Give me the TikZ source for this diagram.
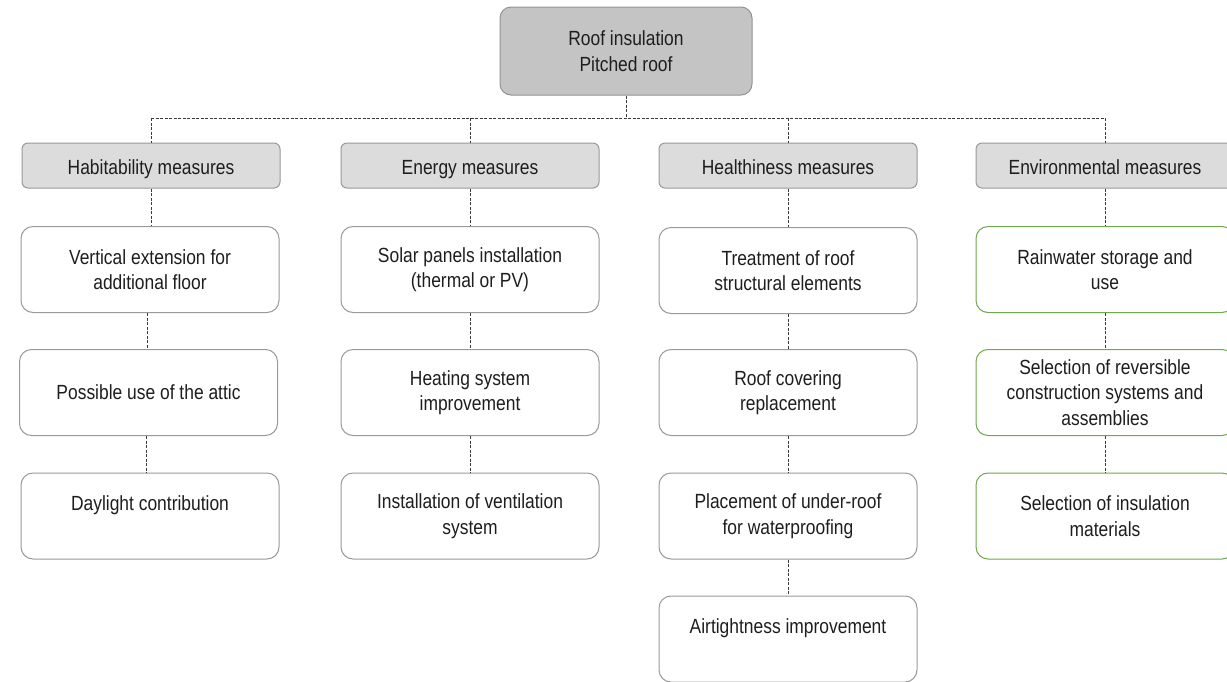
\documentclass[tikz,border=0pt]{standalone}
\usepackage{fontspec}
\setmainfont{Liberation Sans}[FakeStretch=0.85]
\definecolor{txt}{HTML}{1E1E1E}
\definecolor{edge}{HTML}{9A9A9A}
\definecolor{topfill}{HTML}{C4C4C4}
\definecolor{headfill}{HTML}{DCDCDC}
\definecolor{envgreen}{HTML}{70A84A}
\definecolor{wire}{HTML}{3A3A3A}
\tikzset{
  base/.style={draw=edge, line width=1pt, align=center, text=txt, inner sep=0pt,
    font=\fontsize{20.5}{25.5}\selectfont},
  topbox/.style={base, fill=topfill, draw=gray!85, rounded corners=11pt,
    minimum width=252pt, minimum height=88pt},
  headbox/.style={base, fill=headfill, draw=gray!80, rounded corners=6pt,
    minimum width=258pt, minimum height=45pt, text height=18pt, text depth=1pt},
  itembox/.style={base, fill=white, rounded corners=12pt,
    minimum width=258pt, minimum height=86pt},
  envbox/.style={itembox, draw=envgreen},
  conn/.style={draw=wire, line width=1pt, dash pattern=on 3pt off 1.5pt}
}
\begin{document}
\begin{tikzpicture}[x=1pt,y=-1pt]
\useasboundingbox[fill=white] (0,0) rectangle (1227,681);

% root
\node[topbox] (top) at (626,51) {Roof insulation\\Pitched roof};
\coordinate (bus) at (0,118);

% category headers
\node[headbox] (h1) at (151,165.5) {Habitability measures};
\node[headbox] (h2) at (470,165.5) {Energy measures};
\node[headbox] (h3) at (788,165.5) {Healthiness measures};
\node[headbox] (h4) at (1105,165.5) {Environmental measures};

% habitability
\node[itembox] (a1) at (150,269.5) {Vertical extension for\\additional floor};
\node[itembox] (a2) at (148.5,392.5) {Possible use of the attic};
\node[itembox] (a3) at (150,516) {Daylight contribution\\\mbox{}};

% energy
\node[itembox] (b1) at (470,269.5) {Solar panels installation\\(thermal or PV)};
\node[itembox] (b2) at (470,392.5) {Heating system\\improvement};
\node[itembox] (b3) at (470,516) {Installation of ventilation\\system};

% healthiness
\node[itembox] (c1) at (788,270.5) {Treatment of roof\\structural elements};
\node[itembox] (c2) at (788,392.5) {Roof covering\\replacement};
\node[itembox] (c3) at (788,516) {Placement of under-roof\\for waterproofing};
\node[itembox] (c4) at (788,639) {Airtightness improvement\\\mbox{}};

% environmental
\node[envbox] (d1) at (1105,269.5) {Rainwater storage and\\use};
\node[envbox] (d2) at (1105,392.5) {Selection of reversible\\construction systems and\\assemblies};
\node[envbox] (d3) at (1105,516) {Selection of insulation\\materials};

% dashed tree connectors
\draw[conn] (top.south) -- (top.south |- bus);
\draw[conn] (h1.north |- bus) -- (h4.north |- bus);
\foreach \h in {h1,h2,h3,h4}
  \draw[conn] (\h.north |- bus) -- (\h.north);

\draw[conn] (h1.south) -- (h1.south |- a1.north);
\draw[conn] ([xshift=-3pt]a1.south) -- ([xshift=-3pt]a1.south |- a2.north);
\draw[conn] ([xshift=-2pt]a2.south) -- ([xshift=-2pt]a2.south |- a3.north);

\draw[conn] (h2) -- (b1);
\draw[conn] (b1) -- (b2);
\draw[conn] (b2) -- (b3);

\draw[conn] (h3) -- (c1);
\draw[conn] (c1) -- (c2);
\draw[conn] (c2) -- (c3);
\draw[conn] (c3) -- (c4);

\draw[conn] (h4) -- (d1);
\draw[conn] (d1) -- (d2);
\draw[conn] (d2) -- (d3);
\end{tikzpicture}
\end{document}
